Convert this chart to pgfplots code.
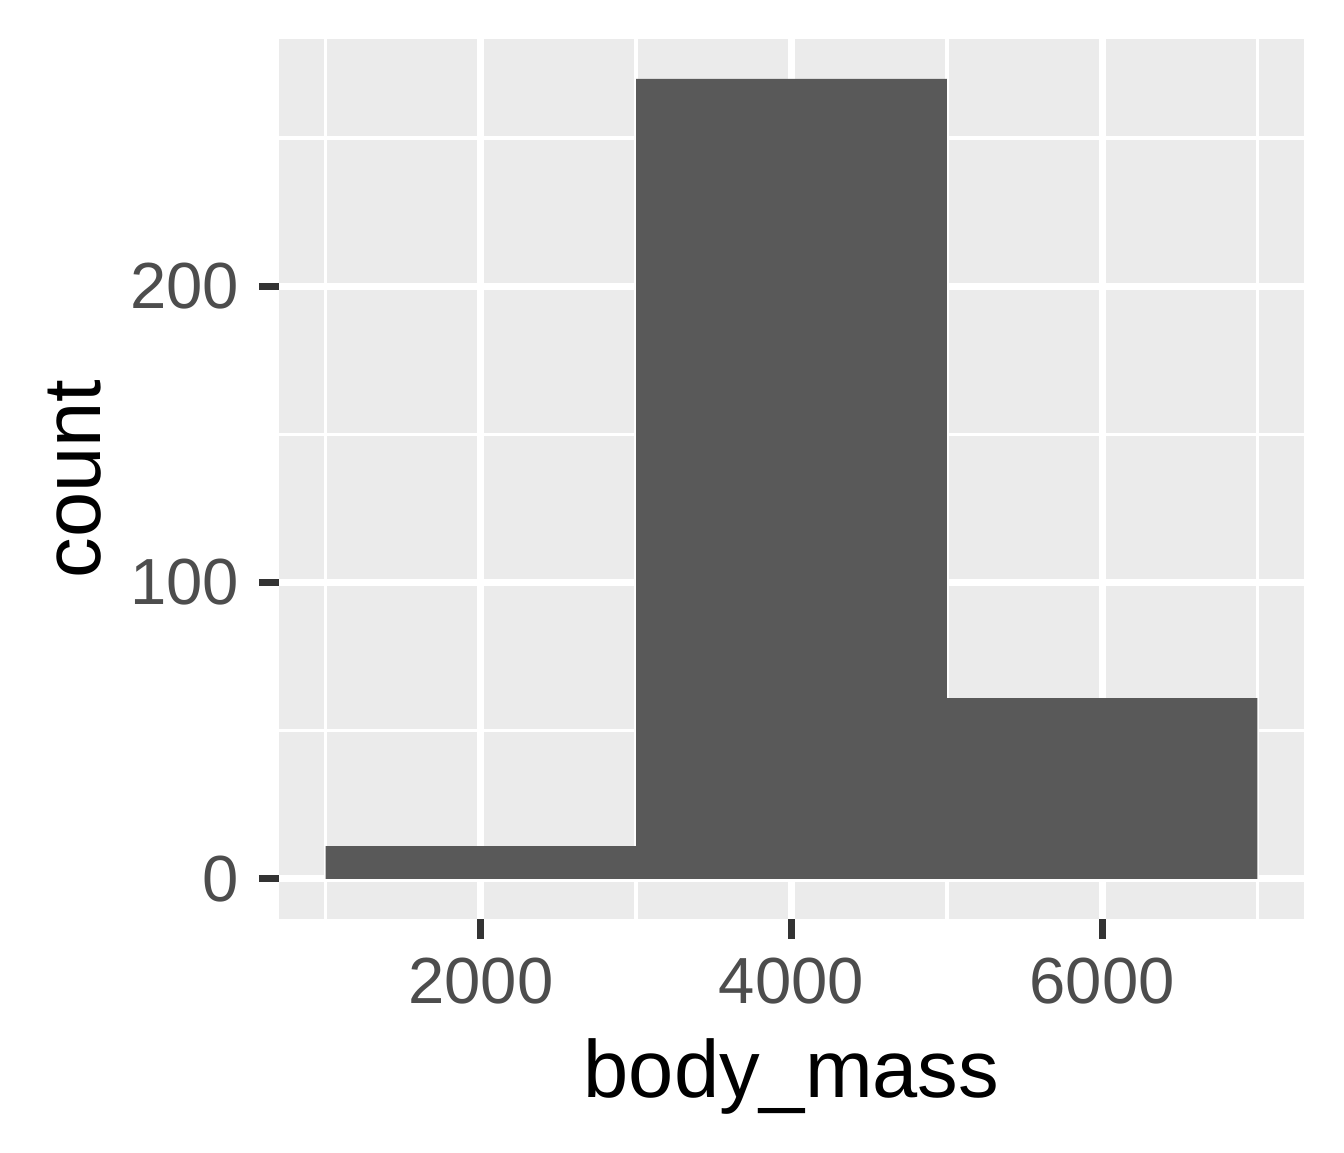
\documentclass[border=0pt]{standalone}
\usepackage{pgfplots}
\pgfplotsset{compat=1.18}
\usepackage{fontspec}
\setmainfont{Liberation Sans}

\definecolor{panelbg}{HTML}{EBEBEB}
\definecolor{barfill}{HTML}{595959}
\definecolor{tickcol}{HTML}{333333}
\definecolor{labcol}{HTML}{4D4D4D}

\begin{document}
\begin{tikzpicture}
\useasboundingbox (-66.96pt,-55.99pt) rectangle (255.6pt,220.49pt);
\begin{axis}[
    at={(0,0)}, anchor=south west,
    scale only axis,
    width=246pt, height=211.13pt,
    xmin=700, xmax=7300,
    ymin=-13.5, ymax=283.5,
    axis background/.style={fill=panelbg},
    axis line style={draw=none},
    xtick={2000,4000,6000},
    ytick={0,100,200},
    minor xtick={1000,3000,5000,7000},
    minor ytick={50,150,250},
    grid=both,
    major grid style={white, line width=1.7pt},
    minor grid style={white, line width=0.85pt},
    tick align=outside,
    xtick pos=bottom, ytick pos=left,
    major tick length=4.8pt,
    minor tick length=0pt,
    tick style={tickcol, line width=1.7pt},
    /pgf/number format/assume math mode=true,
    xticklabel style={/pgf/number format/1000 sep={}, anchor=north, inner sep=0pt,
        font=\fontsize{15.65pt}{18pt}\selectfont, text=labcol},
    yticklabel style={anchor=east, inner sep=0pt,
        font=\fontsize{15.65pt}{18pt}\selectfont, text=labcol},
    xticklabel shift=4.4pt,
    yticklabel shift=4.56pt,
    xlabel={body\_mass},
    ylabel={count},
    xlabel style={at={(axis description cs:0.5,-0.2027)}, anchor=base, inner sep=0pt,
        font=\fontsize{19.5pt}{23pt}\selectfont},
    ylabel style={at={(axis description cs:-0.1746,0.5)}, anchor=base, inner sep=0pt,
        font=\fontsize{19.5pt}{23pt}\selectfont},
]
\addplot[ybar interval, fill=barfill, draw=none]
    coordinates {(1000,11) (3000,270) (5000,61) (7000,61)};
\end{axis}
\end{tikzpicture}
\end{document}
